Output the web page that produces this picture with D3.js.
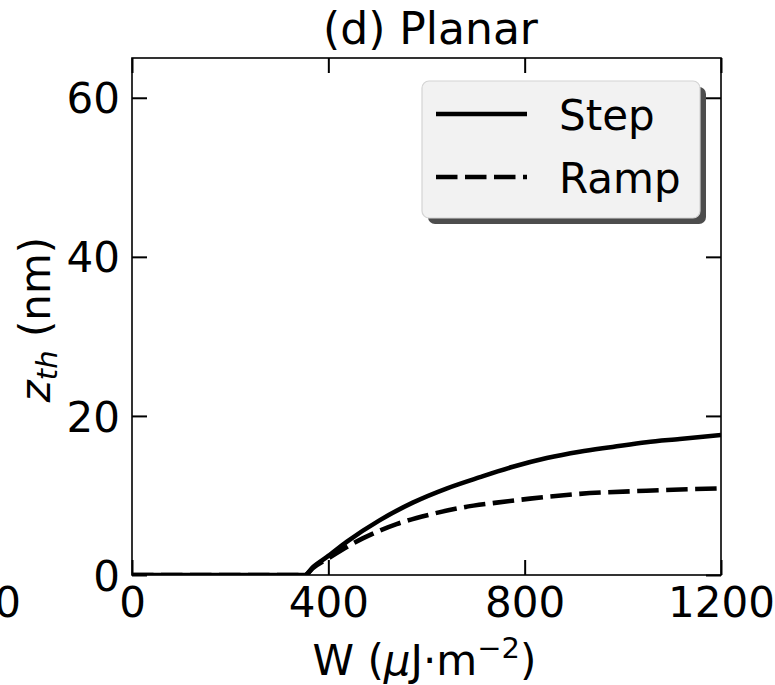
<!DOCTYPE html>
<html><head><meta charset="utf-8">
<script src="https://cdn.jsdelivr.net/npm/d3@7"></script>
<style>body{margin:0;background:#fff}svg{display:block}text{font-family:"DejaVu Sans",sans-serif}</style>
</head><body>
<script>
// ---- data ----
const xTicks = [0, 400, 800, 1200];
const yTicks = [0, 20, 40, 60];
const stepW = [0, 352, 369, 400, 438, 505, 572, 642, 709, 776, 845, 912, 979, 1048, 1116, 1200];
const stepZ = [0, 0, 1.0, 2.4, 4.2, 6.9, 9.1, 10.9, 12.3, 13.6, 14.7, 15.5, 16.1, 16.7, 17.1, 17.6];
const rampW = [0, 352, 369, 400, 470, 539, 607, 674, 743, 811, 912, 1048, 1200];
const rampZ = [0, 0, 0.9, 2.1, 4.6, 6.4, 7.6, 8.5, 9.1, 9.6, 10.2, 10.6, 10.9];
const seriesNames = ["Step", "Ramp"];
const titleText = "(d) Planar";

const W = 775, H = 685;
const m = {left: 132, right: 721, top: 58, bottom: 575};
const svg = d3.select("body").append("svg").attr("width", W).attr("height", H);

const x = d3.scaleLinear().domain([0, 1200]).range([m.left, m.right]);
const y = d3.scaleLinear().domain([0, 65]).range([m.bottom, m.top]);

svg.append("defs").append("clipPath").attr("id", "clip")
  .append("rect").attr("x", m.left).attr("y", m.top)
  .attr("width", m.right - m.left).attr("height", m.bottom - m.top);

const line = d3.line().x(d => x(d[0])).y(d => y(d[1])).curve(d3.curveMonotoneX);
const stepData = stepW.map((w, i) => [w, stepZ[i]]);
const rampData = rampW.map((w, i) => [w, rampZ[i]]);

const g = svg.append("g").attr("clip-path", "url(#clip)");
g.append("path").datum(rampData).attr("d", line).attr("fill", "none")
  .attr("stroke", "#000").attr("stroke-width", 4.6).attr("stroke-dasharray", "21.5,7.5");
g.append("path").datum(stepData).attr("d", line).attr("fill", "none")
  .attr("stroke", "#000").attr("stroke-width", 4.6);

// axes (ticks inward on all sides)
const fs = 42;
function styleAxis(sel) {
  sel.select(".domain").remove();
  sel.selectAll(".tick line").attr("stroke", "#000").attr("stroke-width", 2);
  sel.selectAll(".tick text").attr("font-size", fs).attr("fill", "#000")
    .attr("font-family", "DejaVu Sans");
}
const xb = svg.append("g").attr("transform", `translate(0,${m.bottom})`)
  .call(d3.axisBottom(x).tickValues(xTicks).tickSizeInner(-15).tickSizeOuter(0).tickPadding(12).tickFormat(d3.format("d")));
styleAxis(xb);
const xt = svg.append("g").attr("transform", `translate(0,${m.top})`)
  .call(d3.axisTop(x).tickValues(xTicks).tickSizeInner(-15).tickSizeOuter(0).tickFormat(""));
styleAxis(xt);
const yl = svg.append("g").attr("transform", `translate(${m.left},0)`)
  .call(d3.axisLeft(y).tickValues(yTicks).tickSizeInner(-15).tickSizeOuter(0).tickPadding(12).tickFormat(d3.format("d")));
styleAxis(yl);
const yr = svg.append("g").attr("transform", `translate(${m.right},0)`)
  .call(d3.axisRight(y).tickValues(yTicks).tickSizeInner(-15).tickSizeOuter(0).tickFormat(""));
styleAxis(yr);
xb.selectAll(".tick text").attr("dy", null).attr("y", 42);
yl.selectAll(".tick text").attr("dy", "0.36em");

// spines
svg.append("rect").attr("x", m.left).attr("y", m.top)
  .attr("width", m.right - m.left).attr("height", m.bottom - m.top)
  .attr("fill", "none").attr("stroke", "#000").attr("stroke-width", 1.6);

// neighbouring panel's tick label, clipped by the left edge as in the reference
svg.append("text").attr("x", 21).attr("y", 617).attr("text-anchor", "end")
  .attr("font-size", fs).text("1200");

// title
svg.append("text").attr("x", (m.left + m.right) / 2 + 4).attr("y", 44)
  .attr("text-anchor", "middle").attr("font-size", 44).text(titleText);

// x label
const xlab = svg.append("text").attr("x", (m.left + m.right) / 2 - 2).attr("y", 675)
  .attr("text-anchor", "middle").attr("font-size", fs);
xlab.append("tspan").text("W (");
xlab.append("tspan").attr("font-style", "italic").text("μ");
xlab.append("tspan").text("J·m");
xlab.append("tspan").attr("font-size", 29).attr("dy", -17).text("−2");
xlab.append("tspan").attr("dy", 17).text(")");

// y label
const ylab = svg.append("text").attr("transform", `translate(50,${(m.top + m.bottom) / 2 + 3}) rotate(-90)`)
  .attr("text-anchor", "middle").attr("font-size", fs);
ylab.append("tspan").attr("font-style", "italic").text("z");
ylab.append("tspan").attr("font-style", "italic").attr("font-size", 29).attr("dy", 7).text("th");
ylab.append("tspan").attr("dy", -7).text(" (nm)");

// legend
const lg = svg.append("g");
lg.append("rect").attr("x", 428).attr("y", 87).attr("width", 278).attr("height", 137)
  .attr("rx", 7).attr("fill", "#4d4d4d");
lg.append("rect").attr("x", 422).attr("y", 81).attr("width", 278).attr("height", 137)
  .attr("rx", 7).attr("fill", "#f2f2f2").attr("stroke", "#d4d4d4").attr("stroke-width", 1.2);
const legY = [114, 177];
seriesNames.forEach((name, i) => {
  const ln = lg.append("line").attr("x1", 436).attr("x2", 527).attr("y1", legY[i]).attr("y2", legY[i])
    .attr("stroke", "#000").attr("stroke-width", 4.6);
  if (i === 1) ln.attr("stroke-dasharray", "21.5,7.5");
  lg.append("text").attr("x", 559).attr("y", legY[i] + 16).attr("font-size", fs).text(name);
});
</script>
</body></html>
